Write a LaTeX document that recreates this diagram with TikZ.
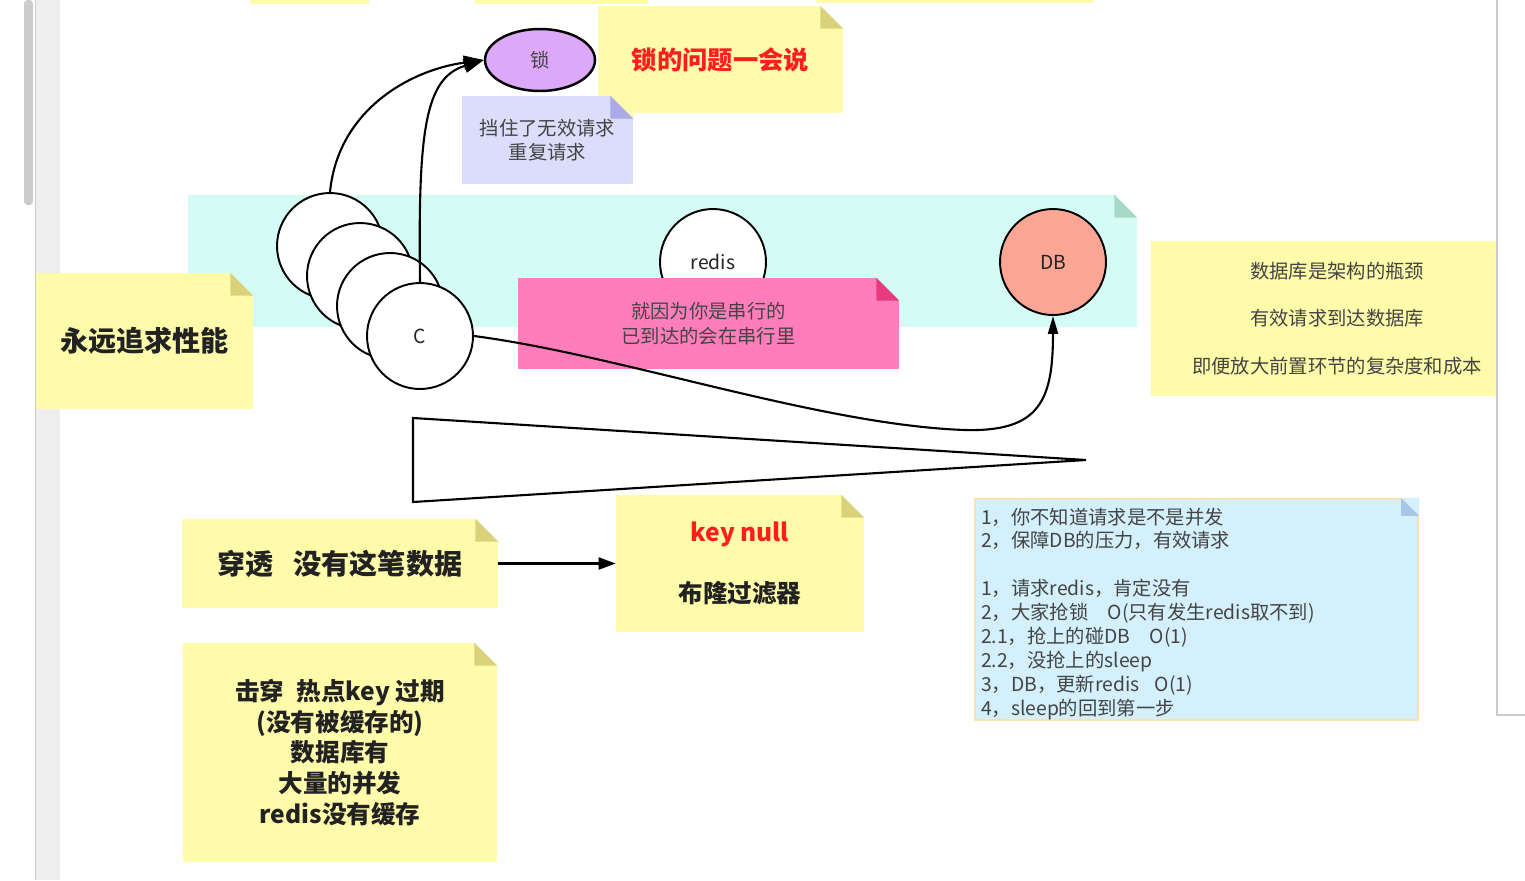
\documentclass[tikz,border=0pt]{standalone}
\usepackage{fontspec}
\setmainfont{Noto Sans CJK SC}
\usetikzlibrary{calc,arrows.meta,shapes.geometric,positioning}

\definecolor{noteyellow}{HTML}{FEFBAA}
\definecolor{foldyellow}{HTML}{D9D27A}
\definecolor{notecyan}{HTML}{D4FCF5}
\definecolor{foldcyan}{HTML}{A7D8C6}
\definecolor{notelilac}{HTML}{DCDCFB}
\definecolor{foldlilac}{HTML}{A9AAE6}
\definecolor{notepink}{HTML}{FF7DBA}
\definecolor{foldpink}{HTML}{E63C7F}
\definecolor{noteblue}{HTML}{D3F0FC}
\definecolor{foldblue}{HTML}{A7C5E6}
\definecolor{blueborder}{HTML}{F8E2AE}
\definecolor{lockfill}{HTML}{DCA8F7}
\definecolor{dbfill}{HTML}{FBA695}
\definecolor{lockred}{HTML}{FF1E1E}
\definecolor{txtgray}{HTML}{444444}
\definecolor{txtdark}{HTML}{222222}
\definecolor{chrome}{HTML}{EEEEEE}
\definecolor{chromeline}{HTML}{CCCCCC}

\tikzset{
    note/.style={
    rectangle,draw=none,inner sep=0pt,align=center
    },
    wh/.style 2 args={
    minimum width=#1*0.02cm,minimum height=#2*0.02cm
    },
    txt/.style={
    font=\fontsize{11}{13.6}\selectfont,text=txtgray
    },
    bigtxt/.style={
    font=\bfseries\fontsize{14}{17.6}\selectfont,text=txtdark
    },
    client/.style={
    circle,draw=black,fill=white,line width=1.1pt,minimum size=2.12cm,inner sep=0pt,
    font=\fontsize{11}{13}\selectfont,text=txtdark
    },
    flow/.style={
    draw=black,line width=1.2pt,-{Triangle[length=0.4cm,width=0.28cm]}
    },
}

\begin{document}
\begin{tikzpicture}[x=0.02cm, y=-0.02cm]
   \useasboundingbox (0,0) rectangle (1525,880);
   \clip (0,0) rectangle (1525,880);
   \fill[white] (0,0) rectangle (1525,880);

   % editor frame
   \fill[chrome] (35,0) rectangle (60,880);
   \draw[chromeline] (35,0) -- (35,880);
   \fill[chromeline,rounded corners=2pt] (24,0) rectangle (33,205);
   \fill[noteyellow] (250,0) rectangle (369,4);
   \fill[noteyellow] (475,0) rectangle (648,4);
   \fill[noteyellow] (816,0) rectangle (1093,3);

   % band and notes
   \node[note,fill=notecyan,wh={949}{132}] (band) at (662.5,261) {};
   \node[note,fill=noteyellow,wh={217}{136},bigtxt,font=\bfseries\fontsize{16}{19}\selectfont] (perf) at (144.5,341) {永远追求性能};

   \node[client] (c1) at (330,246) {};
   \node[client] (c2) at (360,276) {};
   \node[client] (c3) at (390,306) {};
   \node[client] (c4) at (420,336) {C};

   \node[client] (redis) at (713,262) {redis};
   \node[client,fill=dbfill] (db) at (1053,262) {DB};

   \node[note,fill=notepink,wh={381}{91},txt,font=\fontsize{11}{14.2}\selectfont] (serial) at (708.5,323.5) {就因为你是串行的\\已到达的会在串行里};

   \node[ellipse,draw=black,fill=lockfill,line width=1.4pt,minimum width=2.2cm,minimum height=1.24cm,
         font=\fontsize{11}{13}\selectfont,text=txtgray] (lock) at (540,60) {锁};
   \node[note,fill=noteyellow,wh={245}{107},bigtxt,font=\bfseries\fontsize{14.4}{17.6}\selectfont,text=lockred] (later) at (720.5,59.5) {锁的问题一会说};
   \node[note,fill=notelilac,wh={171}{88},txt] (guard) at (547.5,140) {挡住了无效请求\\重复请求};

   \node[note,fill=noteyellow,wh={372}{155},txt,font=\fontsize{11}{27.2}\selectfont] (dbnote) at (1337,318.5)
        {数据库是架构的瓶颈\\有效请求到达数据库\\即便放大前置环节的复杂度和成本};

   \node[note,fill=noteyellow,wh={316}{89},bigtxt,font=\bfseries\fontsize{16}{19}\selectfont] (pen) at (340,563.5)
        {穿透\hspace{0.7em}没有这笔数据};
   \node[note,fill=noteyellow,wh={248}{137},bigtxt,font=\bfseries\fontsize{14}{17}\selectfont] (bloom) at (740,563.5)
        {\textcolor{lockred}{key null}\\[18pt]布隆过滤器};
   \node[note,fill=noteyellow,wh={314}{219},bigtxt] (breakdown) at (340,752.5)
        {击穿\hspace{0.5em}热点key 过期\\(没有被缓存的)\\数据库有\\大量的并发\\redis没有缓存};

   \node[note,fill=noteblue,draw=blueborder,line width=1.2pt,wh={443}{221},txt,text width=431*0.02cm,align=left] (steps) at (1196.5,609.5)
        {\rule{0pt}{14pt}1，你不知道请求是不是并发\\
         2，保障DB的压力，有效请求\\[13.6pt]
         1，请求redis，肯定没有\\
         2，大家抢锁\quad O(只有发生redis取不到)\\
         2.1，抢上的碰DB\quad O(1)\\
         2.2，没抢上的sleep\\
         3，DB，更新redis\hspace{0.8em}O(1)\\
         4，sleep的回到第一步};

   % folded corners
   \foreach \n/\c/\b/\s in {band/foldcyan/white/23,perf/foldyellow/notecyan/23,serial/foldpink/notecyan/23,
                            guard/foldlilac/noteyellow/23,later/foldyellow/white/23,pen/foldyellow/white/23,
                            bloom/foldyellow/white/23,breakdown/foldyellow/white/23,steps/foldblue/noteblue/18}
   {
     \fill[\b] ($(\n.north east)+(-\s,0)$) -- (\n.north east) -- ($(\n.north east)+(0,\s)$) -- cycle;
     \fill[\c] ($(\n.north east)+(-\s,0)$) -- ($(\n.north east)+(0,\s)$) -- ($(\n.north east)+(-\s,\s)$) -- cycle;
   }

   % funnel
   \draw[line width=1.2pt,line join=miter] (413,418) -- (1086,460) -- (413,502) -- cycle;

   \path[flow] (c1.north) .. controls (338,110) and (410,70) .. (lock.west);
   \path[flow] (c4.north) .. controls (418,130) and (425,78) .. (lock.west);
   \path[flow,-{Triangle[length=0.36cm,width=0.2cm]}] (c4.east) .. controls (620,355) and (820,425) .. (965,430)
                                                     .. controls (1040,432) and (1053,400) .. (db.south);
   \path[flow,-{Triangle[length=0.34cm,width=0.24cm]}] (pen.east) -- (bloom.west);

   % side panel
   \filldraw[fill=white,draw=chromeline,line width=1pt] (1497,-5) rectangle (1530,715);
\end{tikzpicture}
\end{document}
